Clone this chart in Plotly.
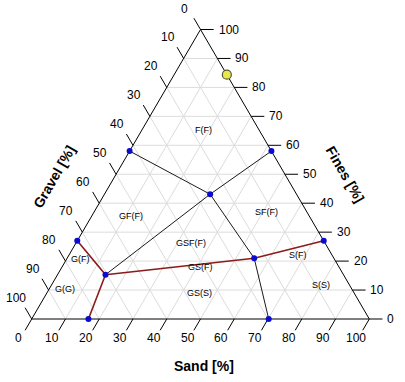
import plotly.graph_objects as go
import numpy as np

# ---- data (ternary compositions in %) ----
node_names = ["L58", "R58", "C", "LG", "J", "BG", "JR", "RS", "BS"]
node_gravel = [42.0, 0.0, 25.6, 73.0, 70.5, 83.2, 23.6, 0.0, 29.8]
node_sand = [0.0, 42.0, 31.3, 0.0, 14.2, 16.8, 55.4, 73.0, 70.2]
node_fines = [58.0, 58.0, 43.1, 27.0, 15.3, 0.0, 21.0, 27.0, 0.0]

black_paths = [["L58", "C", "R58"], ["C", "J"], ["C", "JR", "BS"]]
red_paths = [["LG", "J", "BG"], ["J", "JR", "RS"]]

sample_gravel = [0.0]
sample_sand = [15.6]
sample_fines = [84.4]

region_labels = ["F(F)", "GF(F)", "SF(F)", "GSF(F)", "GS(F)", "G(F)", "G(G)", "GS(S)", "S(F)", "S(S)"]
region_sand = [18.1, 11.6, 50.9, 34.1, 40.8, 4.0, 4.7, 45.1, 67.9, 79.7]
region_fines = [65.3, 35.6, 37.0, 26.1, 18.1, 20.7, 10.4, 9.0, 22.1, 11.7]

tick_values = [0, 10, 20, 30, 40, 50, 60, 70, 80, 90, 100]
grid_values = [10, 20, 30, 40, 50, 60, 70, 80, 90]
tick_len = 3.9


def xy(sand, fines):
    s = np.asarray(sand, dtype=float)
    f = np.asarray(fines, dtype=float)
    return s + f / 2.0, f


idx = {n: i for i, n in enumerate(node_names)}
fig = go.Figure()

# grid
gx, gy = [], []
for v in grid_values:
    # constant fines
    x, y = xy([0, 100 - v], [v, v]); gx += list(x) + [None]; gy += list(y) + [None]
    # constant sand
    x, y = xy([v, v], [0, 100 - v]); gx += list(x) + [None]; gy += list(y) + [None]
    # constant gravel
    x, y = xy([0, 100 - v], [100 - v, 0]); gx += list(x) + [None]; gy += list(y) + [None]
fig.add_trace(go.Scatter(x=gx, y=gy, mode="lines", line=dict(color="#dcdcdc", width=1),
                         hoverinfo="skip", showlegend=False))

# ticks
tx, ty = [], []
for v in tick_values:
    # gravel ticks on left edge (sand=0), outward: sand negative
    x, y = xy([0, -tick_len], [100 - v, 100 - v + tick_len]); tx += list(x) + [None]; ty += list(y) + [None]
    # sand ticks on bottom edge (fines=0), outward: fines negative
    x, y = xy([v, v], [0, -tick_len]); tx += list(x) + [None]; ty += list(y) + [None]
    # fines ticks on right edge (gravel=0), outward: gravel negative
    x, y = xy([100 - v, 100 - v + tick_len], [v, v]); tx += list(x) + [None]; ty += list(y) + [None]
fig.add_trace(go.Scatter(x=tx, y=ty, mode="lines", line=dict(color="black", width=1),
                         hoverinfo="skip", showlegend=False))

# triangle outline
x, y = xy([0, 100, 0, 0], [0, 0, 100, 0])
fig.add_trace(go.Scatter(x=x, y=y, mode="lines", line=dict(color="black", width=1),
                         hoverinfo="skip", showlegend=False))


def add_paths(paths, color, width):
    for p in paths:
        s = [node_sand[idx[n]] for n in p]
        f = [node_fines[idx[n]] for n in p]
        x, y = xy(s, f)
        fig.add_trace(go.Scatter(x=x, y=y, mode="lines", line=dict(color=color, width=width),
                                 hoverinfo="skip", showlegend=False))


add_paths(black_paths, "#1a1a1a", 1)
add_paths(red_paths, "#8b1a1a", 1.6)

# nodes
x, y = xy(node_sand, node_fines)
fig.add_trace(go.Scatter(x=x, y=y, mode="markers", marker=dict(color="#0a0ad0", size=6),
                         showlegend=False))

# sample
x, y = xy(sample_sand, sample_fines)
fig.add_trace(go.Scatter(x=x, y=y, mode="markers",
                         marker=dict(color="#e8e84a", size=9, line=dict(color="#555533", width=1.2)),
                         showlegend=False))

annotations = []
# region labels
x, y = xy(region_sand, region_fines)
for lab, xx, yy in zip(region_labels, x, y):
    annotations.append(dict(x=xx, y=yy, text=lab, showarrow=False,
                            font=dict(family="Arial, Liberation Sans", size=9, color="black")))

tick_font = dict(family="Arial, Liberation Sans", size=12, color="black")
for v in tick_values:
    # gravel on left edge
    x, y = xy([0], [100 - v])
    annotations.append(dict(x=x[0], y=y[0], text=str(v), showarrow=False, font=tick_font,
                            xshift=-16, yshift=21))
    # sand on bottom
    x, y = xy([v], [0])
    annotations.append(dict(x=x[0], y=y[0], text=str(v), showarrow=False, font=tick_font,
                            xshift=-13, yshift=-19))
    # fines on right
    x, y = xy([100 - v], [v])
    annotations.append(dict(x=x[0], y=y[0], text=str(v), showarrow=False, font=tick_font,
                            xanchor="left", xshift=16))

title_font = dict(family="Arial, Liberation Sans", size=14, color="black")
x, y = xy([0], [50])
annotations.append(dict(x=x[0], y=y[0], text="<b>Gravel [%]</b>", showarrow=False, font=title_font,
                        textangle=-60, xshift=-62, yshift=-3))
x, y = xy([50], [50])
annotations.append(dict(x=x[0], y=y[0], text="<b>Fines [%]</b>", showarrow=False, font=title_font,
                        textangle=60, xshift=60, yshift=0))
x, y = xy([50], [0])
annotations.append(dict(x=x[0], y=y[0], text="<b>Sand [%]</b>", showarrow=False, font=title_font,
                        xshift=3, yshift=-47))

fig.update_layout(
    width=405, height=382,
    margin=dict(l=0, r=0, t=0, b=0),
    paper_bgcolor="white", plot_bgcolor="white",
    xaxis=dict(range=[-9.39, 110.57], visible=False, fixedrange=True),
    yaxis=dict(range=[-21.76, 110.19], visible=False, fixedrange=True),
    annotations=annotations,
    showlegend=False,
)

fig.write_html("out.html")
